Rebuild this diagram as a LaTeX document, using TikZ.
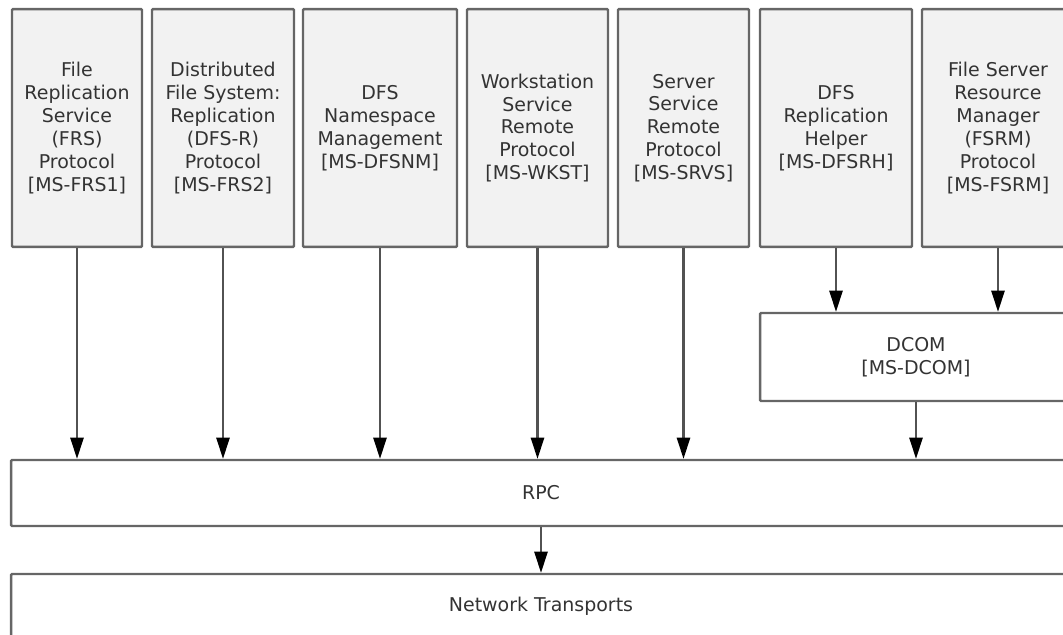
\documentclass[tikz,border=0pt]{standalone}
\usepackage{fontspec}
\setmainfont{DejaVu Sans}
\colorlet{ProtoFill}{black!5}
\colorlet{BoxLine}{black!60}
\colorlet{BoxText}{black!80}
\usetikzlibrary{arrows.meta}
\tikzset{
    proto box/.style={
        draw=BoxLine, fill=ProtoFill, line width=1.4pt, rounded corners=0.6pt,
        inner sep=0pt, minimum height=4.76cm, text=BoxText,
        align=center, font=\fontsize{10.8}{13}\selectfont
    },
    layer box/.style={
        draw=BoxLine, fill=white, line width=1.4pt, rounded corners=0.6pt,
        inner sep=0pt, text=BoxText,
        align=center, font=\fontsize{10.8}{13}\selectfont
    },
    flow arrow/.style={
        draw=black!68, line width=1.2pt,
        -{Triangle[width=7.5pt, length=12pt, color=black]}
    }
}

\begin{document}
\begin{tikzpicture}[x=0.02cm, y=-0.02cm]

\useasboundingbox (0,0) rectangle (1063,635);

% protocols on top
\node[proto box, minimum width=2.6cm]  (frs)   at (77,128)    {File\\Replication\\Service\\(FRS)\\Protocol\\{[MS-FRS1]}};
\node[proto box, minimum width=2.84cm] (dfsr)  at (223,128)   {Distributed\\File System:\\Replication\\(DFS-R)\\Protocol\\{[MS-FRS2]}};
\node[proto box, minimum width=3.08cm] (dfsnm) at (380,128)   {DFS\\Namespace\\Management\\{[MS-DFSNM]}};
\node[proto box, minimum width=2.82cm] (wkst)  at (537.5,128) {Workstation\\Service\\Remote\\Protocol\\{[MS-WKST]}};
\node[proto box, minimum width=2.62cm] (srvs)  at (683.5,128) {Server\\Service\\Remote\\Protocol\\{[MS-SRVS]}};
\node[proto box, minimum width=3.04cm] (dfsrh) at (836,128)   {DFS\\Replication\\Helper\\{[MS-DFSRH]}};
\node[proto box, minimum width=3.04cm] (fsrm)  at (998,128)   {File Server\\Resource\\Manager\\(FSRM)\\Protocol\\{[MS-FSRM]}};

% lower layers
\node[layer box, minimum width=6.24cm, minimum height=1.76cm] (dcom) at (916,357) {DCOM\\{[MS-DCOM]}};
\node[layer box, minimum width=21.2cm, minimum height=1.32cm] (rpc)  at (541,493) {RPC};
\node[layer box, minimum width=21.2cm, minimum height=1.28cm] (net)  at (541,606) {Network Transports};

% calls down to RPC
\foreach \p in {frs, dfsr, dfsnm, wkst, srvs, dcom}
    \draw[flow arrow] (\p.south) -- (\p.south |- rpc.north);

% calls through DCOM
\draw[flow arrow] (dfsrh.south) -- (dfsrh.south |- dcom.north);
\draw[flow arrow] (fsrm.south) -- (fsrm.south |- dcom.north);

\draw[flow arrow] (rpc.south) -- (net.north);

\end{tikzpicture}
\end{document}
